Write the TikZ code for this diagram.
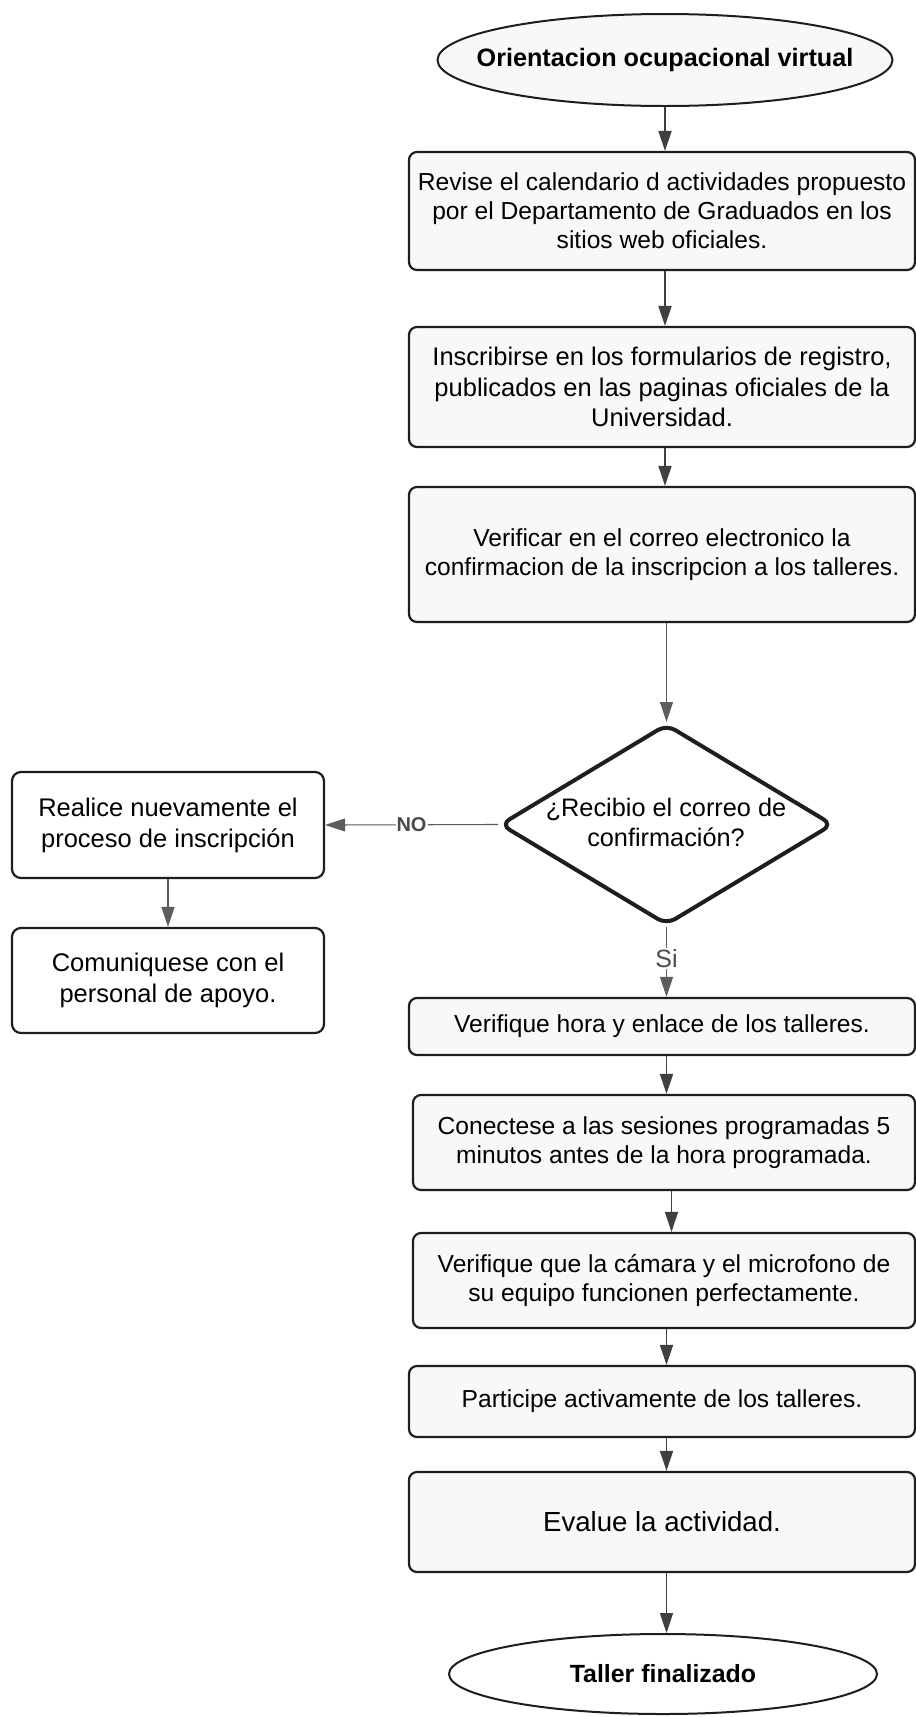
\documentclass[tikz,border=0pt]{standalone}
\usepackage{fontspec}
\setmainfont{Liberation Sans}
\usetikzlibrary{shapes.geometric,arrows.meta}
\definecolor{edge}{HTML}{1E1E1E}
\definecolor{boxfill}{HTML}{F8F8F8}
\definecolor{arrowgray}{HTML}{404040}
\definecolor{labelgray}{HTML}{4A4A4A}
\begin{document}
\begin{tikzpicture}[x=1pt,y=-1pt,
  base/.style={draw=edge, inner sep=0pt, align=center, text=black},
  stepbox/.style={base, line width=2.2pt, rounded corners=8pt, fill=boxfill,
    minimum width=506pt, font=\fontsize{24.6}{29}\selectfont},
  sidebox/.style={base, line width=2.2pt, rounded corners=9pt, fill=white,
    minimum width=312pt, font=\fontsize{25.5}{31}\selectfont},
  terminal/.style={draw=edge, ellipse, line width=2pt, inner sep=0pt},
  termtext/.style={font=\bfseries\fontsize{25.2}{29}\selectfont},
  decision/.style={draw=edge, diamond, line width=4pt, rounded corners=10pt, fill=white, inner sep=0pt},
  arr/.style={draw=arrowgray, line width=1.6pt, -{Triangle[width=13pt,length=20pt]}},
  thinarr/.style={draw=arrowgray!85, line width=1.1pt, -{Triangle[width=13pt,length=20pt]}},
  edgelabel/.style={fill=white, inner sep=1pt, text=labelgray}
]
\useasboundingbox (0,0) rectangle (916,1717);
\fill[white] (0,0) rectangle (916,1717);

% main column
\node[terminal, fill=boxfill, minimum width=455pt, minimum height=92pt] (start) at (665,60) {};
\node[termtext] at (start.center) {Orientacion ocupacional virtual};
\node[stepbox, minimum height=118pt] (calendar) at (662,211)
  {Revise el calendario d actividades propuesto\\por el Departamento de Graduados en los\\sitios web oficiales.};
\node[stepbox, minimum height=120pt, font=\fontsize{25.5}{30.5}\selectfont] (register) at (662,387)
  {Inscribirse en los formularios de registro,\\publicados en las paginas oficiales de la\\Universidad.};
\node[stepbox, minimum height=135pt] (mail) at (662,554.5)
  {Verificar en el correo electronico la\\confirmacion de la inscripcion a los talleres.};
\node[decision, minimum width=333pt, minimum height=201pt] (dia) at (666.5,824.5) {};
\node[align=center, font=\fontsize{25.3}{30}\selectfont] (diatext) at (666,822)
  {¿Recibio el correo de\\confirmación?};
\node[stepbox, minimum height=57pt] (hour) at (662,1026.5)
  {Verifique hora y enlace de los talleres.};
\node[stepbox, minimum width=502pt, minimum height=95pt] (connect) at (664,1142.5)
  {Conectese a las sesiones programadas 5\\minutos antes de la hora programada.};
\node[stepbox, minimum width=502pt, minimum height=95pt] (camera) at (664,1280.5)
  {Verifique que la cámara y el microfono de\\su equipo funcionen perfectamente.};
\node[stepbox, minimum height=71pt] (take) at (662,1401.5)
  {Participe activamente de los talleres.};
\node[stepbox, minimum height=100pt, font=\fontsize{27.6}{33}\selectfont] (rate) at (662,1522)
  {Evalue la actividad.};
\node[terminal, fill=white, minimum width=428pt, minimum height=80pt] (finish) at (663,1674) {};
\node[termtext, font=\bfseries\fontsize{24.9}{29}\selectfont] at (finish.center) {Taller finalizado};

% side branch
\node[sidebox, minimum height=106pt] (retry) at (168,825)
  {Realice nuevamente el\\proceso de inscripción};
\node[sidebox, minimum height=105pt] (support) at (168,980.5)
  {Comuniquese con el\\personal de apoyo.};

% connectors
\draw[arr, line width=2pt] (start.south) -- (start.south |- calendar.north);
\draw[arr, line width=2pt] (calendar.south -| start.south) -- (register.north -| start.south);
\draw[arr] (register.south -| start.south) -- (mail.north -| start.south);
\draw[thinarr] (mail.south -| dia.north) -- (dia.north);
\draw[thinarr] (dia.south) -- (hour.north -| dia.south)
  node[edgelabel, pos=0.45, font=\fontsize{25}{25}\selectfont] {Si};
\draw[thinarr] (dia.west) -- (retry.east)
  node[edgelabel, pos=0.5, font=\bfseries\fontsize{20}{20}\selectfont] {NO};
\draw[arr] (hour.south -| dia.south) -- (connect.north -| dia.south);
\draw[arr] ([xshift=5pt]connect.south -| dia.south) -- ([xshift=5pt]camera.north -| dia.south);
\draw[arr] (camera.south -| dia.south) -- (take.north -| dia.south);
\draw[arr] (take.south -| dia.south) -- (rate.north -| dia.south);
\draw[arr] (rate.south -| dia.south) -- (finish.north -| dia.south);
\draw[thinarr] (retry.south) -- (support.north);
\end{tikzpicture}
\end{document}
